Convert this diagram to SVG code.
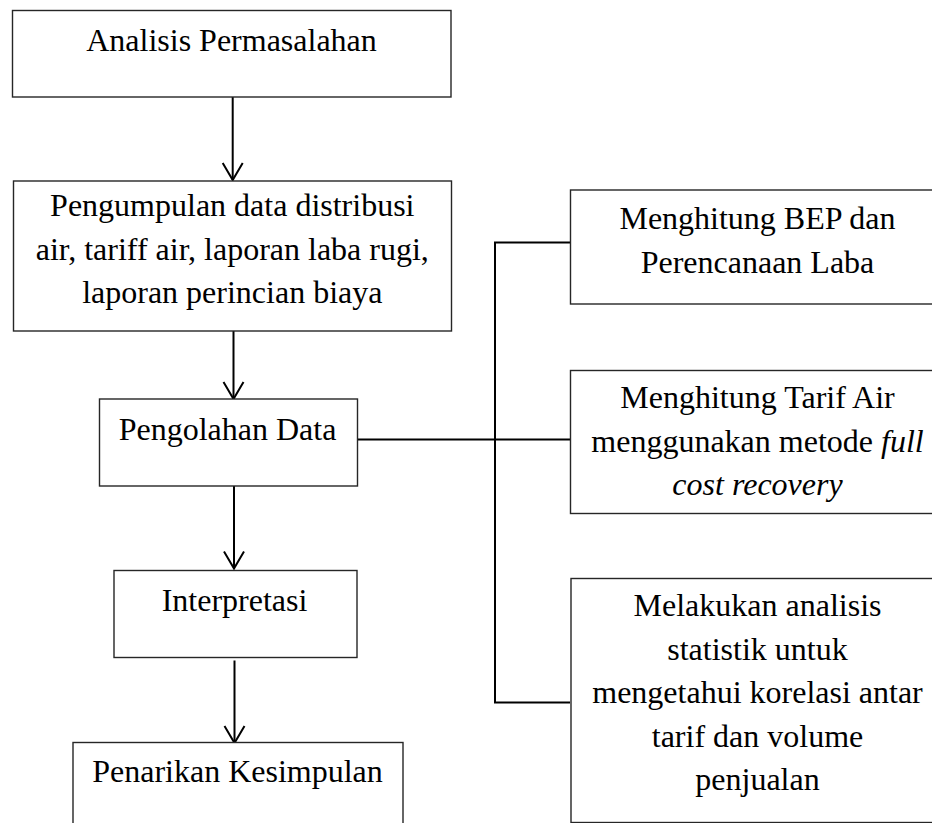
<svg xmlns="http://www.w3.org/2000/svg" width="932" height="823" viewBox="0 0 932 823">
<style>
.box{fill:#fff;stroke:#262626;stroke-width:1.4}
.t{font-family:"Liberation Serif","Times New Roman",serif;font-size:32px;fill:#000;text-anchor:middle}
.i{font-style:italic}
.c{fill:none;stroke:#000;stroke-width:2}
</style>
<defs>
<marker id="arr" viewBox="-19 -12 21 24" refX="0" refY="0" markerWidth="21" markerHeight="24" markerUnits="userSpaceOnUse" orient="auto">
<path d="M-17,-10 L0,0 L-17,10" fill="none" stroke="#000" stroke-width="2"/>
</marker>
</defs>
<rect width="932" height="823" fill="#fff"/>
<g id="connectors">
<line class="c" x1="232.7" y1="97" x2="232.7" y2="180" marker-end="url(#arr)"/>
<line class="c" x1="233.5" y1="317" x2="233.5" y2="399" marker-end="url(#arr)"/>
<line class="c" x1="234" y1="485" x2="234" y2="568.5" marker-end="url(#arr)"/>
<line class="c" x1="234.5" y1="660.5" x2="234.5" y2="743" marker-end="url(#arr)"/>
<path class="c" d="M357,439.5 H570 M570,242.5 H495 V702.5 H570"/>
</g>
<g id="n1">
<rect class="box" x="12.5" y="10.5" width="438.5" height="86.5"/>
<text class="t" x="231.5" y="51">Analisis Permasalahan</text>
</g>
<g id="n2">
<rect class="box" x="13.5" y="181" width="438" height="150"/>
<text class="t" x="232.3" y="216">Pengumpulan data distribusi</text>
<text class="t" x="232.3" y="259.5">air, tariff air, laporan laba rugi,</text>
<text class="t" x="232.3" y="303">laporan perincian biaya</text>
</g>
<g id="n3">
<rect class="box" x="99.5" y="399" width="258" height="87"/>
<text class="t" x="227.5" y="440">Pengolahan Data</text>
</g>
<g id="n4">
<rect class="box" x="114" y="570.5" width="243" height="87"/>
<text class="t" x="234.5" y="610.5">Interpretasi</text>
</g>
<g id="n5">
<rect class="box" x="73" y="742.5" width="330" height="100"/>
<text class="t" x="237.5" y="781.5">Penarikan Kesimpulan</text>
</g>
<g id="r1">
<rect class="box" x="570.5" y="190" width="380" height="114"/>
<text class="t" x="757.5" y="229">Menghitung BEP dan</text>
<text class="t" x="757.5" y="273">Perencanaan Laba</text>
</g>
<g id="r2">
<rect class="box" x="570.5" y="370.5" width="380" height="143"/>
<text class="t" x="757.5" y="408">Menghitung Tarif Air</text>
<text class="t" x="757.5" y="451.5">menggunakan metode <tspan class="i">full</tspan></text>
<text class="t i" x="757.5" y="495">cost recovery</text>
</g>
<g id="r3">
<rect class="box" x="571" y="578.5" width="380" height="244"/>
<text class="t" x="757.5" y="616">Melakukan analisis</text>
<text class="t" x="757.5" y="659.5">statistik untuk</text>
<text class="t" x="757.5" y="703">mengetahui korelasi antar</text>
<text class="t" x="757.5" y="746.5">tarif dan volume</text>
<text class="t" x="757.5" y="790">penjualan</text>
</g>
</svg>
